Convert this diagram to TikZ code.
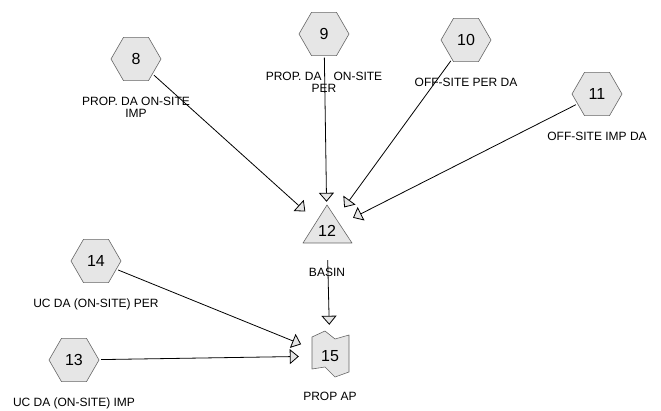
\documentclass[tikz,border=0pt]{standalone}
\usepackage{fontspec}
\setmainfont{Liberation Sans}
\usetikzlibrary{arrows.meta,positioning,shapes.geometric,calc,backgrounds}
\definecolor{boxfill}{HTML}{E6E6E6}
\definecolor{boxline}{HTML}{666666}

\begin{document}
\begin{tikzpicture}[
  x=1pt,y=-1pt,
  hexa/.style={regular polygon,regular polygon sides=6,minimum size=50pt,inner sep=0pt,
               draw=boxline,fill=boxfill,line width=0.6pt,outer sep=2pt,
               font=\fontsize{16}{16}\selectfont},
  hub/.style={circle,inner sep=0pt,font=\fontsize{16}{16}\selectfont},
  tag/.style={inner sep=0pt,align=center,font=\fontsize{12}{12.5}\selectfont},
  ar/.style={-{Triangle[length=9pt,width=15pt,fill=boxfill]},line width=0.8pt},
  outline/.style={draw=boxline,fill=boxfill,line width=0.6pt,line join=round}
]
\useasboundingbox (0,0) rectangle (661,411);

% inputs
\node[hexa] (n8) at (136,59) {8};
\node[hexa] (n9) at (324,34) {9};
\node[hexa] (n10) at (466,40) {10};
\node[hexa] (n11) at (597,94) {11};
\node[hexa] (n14) at (96,261) {14};
\node[hexa] (n13) at (74,360) {13};

% basin and its output
\node[hub,minimum size=58pt] (n12) at (327,231) {12};
\node[hub,minimum size=62pt] (n15) at (330,356) {15};

\begin{scope}[on background layer]
  \draw[outline] ($(n12)+(0,-26)$) -- ($(n12)+(-24,12)$) -- ($(n12)+(25,12)$) -- cycle;
  \draw[outline] ($(n15)+(-18,-19)$) -- ($(n15)+(-5,-25)$) -- ($(n15)+(5,-17)$)
    -- ($(n15)+(19,-21)$) -- ($(n15)+(19,16)$) -- ($(n15)+(5,21)$)
    -- ($(n15)+(-5,11)$) -- ($(n15)+(-18,13)$) -- cycle;
\end{scope}

% names
\node[tag,below=14pt of n8] (t8) {PROP. DA ON-SITE\\IMP};
\node[tag,below=14pt of n9] (t9) {PROP. DA\quad ON-SITE\\PER};
\node[tag,below=14pt of n10] (t10) {OFF-SITE PER DA};
\node[tag,below=14pt of n11] (t11) {OFF-SITE IMP DA};
\node[tag,below=14pt of n14] (t14) {UC DA (ON-SITE) PER};
\node[tag,below=14pt of n13] (t13) {UC DA (ON-SITE) IMP};
\node[tag,below=7.5pt of n12] (t12) {BASIN};
\node[tag,below=4.5pt of n15] (t15) {PROP AP};

\draw[ar] (n8) -- (n12);
\draw[ar] (n9) -- (n12);
\draw[ar] (n10) -- (n12);
\draw[ar] (n11) -- (n12);
\draw[ar] (n12) -- (n15);
\draw[ar] (n14) -- (n15);
\draw[ar] (n13) -- (n15);
\end{tikzpicture}
\end{document}
